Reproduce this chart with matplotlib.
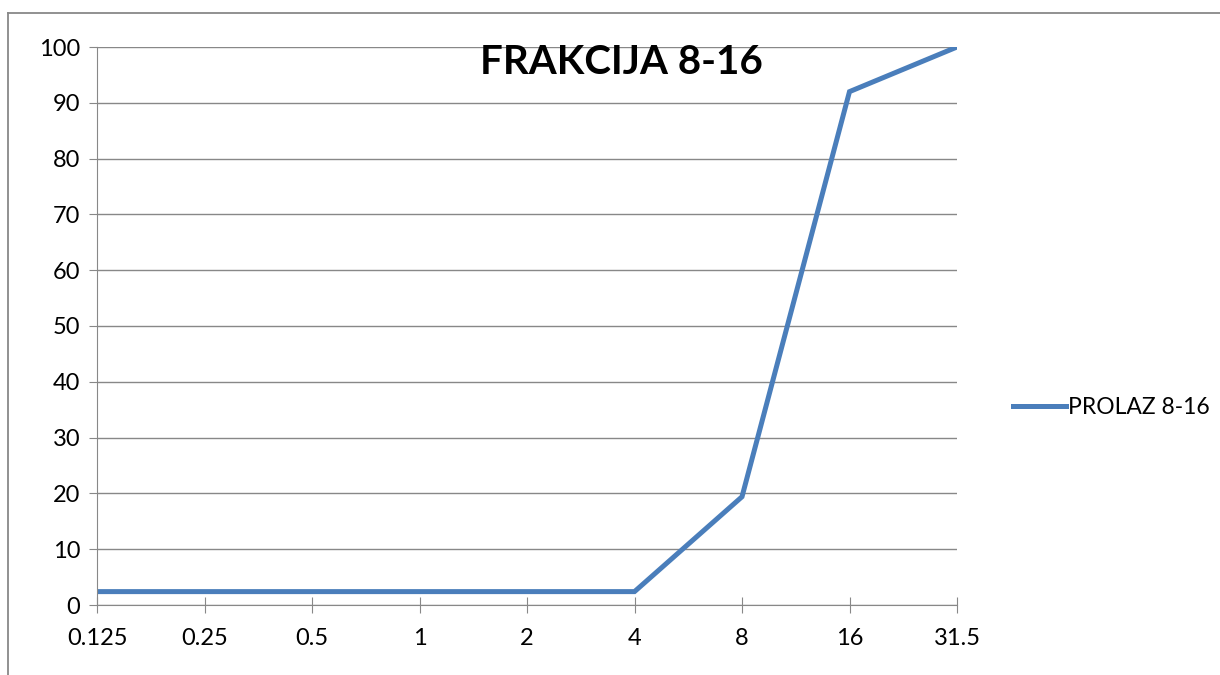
import matplotlib
matplotlib.use('Agg')
import matplotlib.pyplot as plt
from matplotlib.lines import Line2D

plt.rcParams['font.family'] = ['Lato', 'DejaVu Sans']

sita = ['0.125', '0.25', '0.5', '1', '2', '4', '8', '16', '31.5']
prolaz = [2.4, 2.4, 2.4, 2.4, 2.4, 2.4, 19.4, 92, 100]

W, H = 1220, 675
fig = plt.figure(figsize=(W / 100, H / 100), dpi=100)
ax = fig.add_axes([97 / W, 1 - 605 / H, (957 - 97) / W, (605 - 47) / H])

x = list(range(len(sita)))
ax.plot(x, prolaz, color='#4A7EBB', lw=3.6, solid_joinstyle='miter', label='PROLAZ 8-16')

ax.set_xlim(0, len(sita) - 1)
ax.set_ylim(0, 100)
ax.set_xticks(x)
ax.set_xticklabels(sita)
ax.set_yticks(range(0, 101, 10))
ax.yaxis.grid(True, color='#888888', lw=1)
ax.set_axisbelow(True)

for s in ['top', 'right']:
    ax.spines[s].set_visible(False)
for s in ['left', 'bottom']:
    ax.spines[s].set_color('#888888')
ax.tick_params(axis='x', direction='inout', length=11, color='#888888', labelsize=17, pad=11)
ax.tick_params(axis='y', direction='out', length=6, color='#888888', labelsize=17, pad=6)
ax.set_zorder(1)

fig.text(621 / W, 1 - 63 / H, 'FRAKCIJA 8-16', ha='center', va='center',
         fontsize=29, fontweight='bold')

ax.legend(loc='center left', bbox_to_anchor=(1004 / W, 1 - 408 / H),
          bbox_transform=fig.transFigure, frameon=False, fontsize=16.5,
          handlelength=2.3, handletextpad=0.1, borderaxespad=0)

# outer chart border (cropped at right and bottom)
fig.add_artist(Line2D([8 / W, 8 / W], [0, 1 - 13 / H], color='#888888', lw=1.3,
                      transform=fig.transFigure))
fig.add_artist(Line2D([8 / W, 1], [1 - 13 / H, 1 - 13 / H], color='#888888', lw=1.3,
                      transform=fig.transFigure))

fig.savefig('out.png', dpi=100)
